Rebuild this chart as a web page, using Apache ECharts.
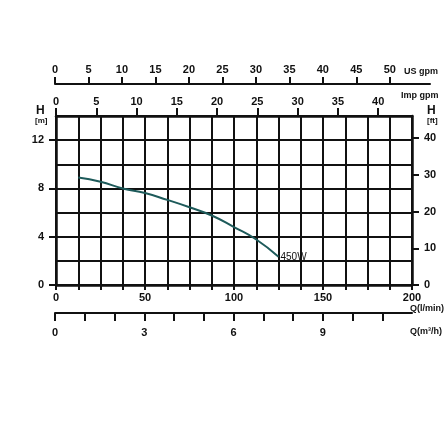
<!DOCTYPE html>
<html lang="en">
<head>
    <meta charset="UTF-8">
    <title>Pump curve</title>
    <style>
        html, body { margin: 0; padding: 0; background: #fff; }
        #chart { width: 448px; height: 448px; }
    </style>
</head>
<body>
<div id="chart"></div>
<script src="https://cdn.jsdelivr.net/npm/echarts@6/dist/echarts.min.js"></script>
<script>
    // flow (l/min) and head (m)
    var flowLmin = [12.5, 25, 37.5, 50, 62.5, 75, 87.5, 100, 112.5, 125];
    var headM = [8.9, 8.55, 8.0, 7.62, 7.05, 6.44, 5.76, 4.8, 3.77, 2.34];
    var seriesName = '450W';

    var lminLabels = [0, 50, 100, 150, 200];
    var headLabels = [0, 4, 8, 12];
    var ftLabels = [0, 10, 20, 30, 40];
    var impLabels = [0, 5, 10, 15, 20, 25, 30, 35, 40];
    var usLabels = [0, 5, 10, 15, 20, 25, 30, 35, 40, 45, 50];
    var m3hTicks = [0, 1, 2, 3, 4, 5, 6, 7, 8, 9, 10, 11];
    var m3hLabels = [0, 3, 6, 9];

    var font = 'Liberation Sans';
    var lbl = {color: '#111', fontSize: 11, fontWeight: 'bold', fontFamily: font};
    var black = '#111';

    var pts = flowLmin.map(function (q, i) { return [q, headM[i]]; });

    var chart = echarts.init(document.getElementById('chart'));
    var option = {
        animation: false,
        grid: [
            {left: 56, top: 116, width: 356, height: 169},   // main chart
            {left: 55, top: 84, width: 375, height: 0},      // US gpm scale
            {left: 55, top: 313, width: 357, height: 0}      // m3/h scale
        ],
        xAxis: [
            {
                gridIndex: 0, type: 'value', position: 'bottom',
                min: 0, max: 200, interval: 12.5,
                axisLine: {onZero: false, lineStyle: {color: black, width: 2.5}},
                axisTick: {show: true, length: 5, lineStyle: {color: black, width: 2}},
                axisLabel: Object.assign({customValues: lminLabels, margin: 7}, lbl),
                splitLine: {show: true, lineStyle: {color: black, width: 2}}
            },
            {
                gridIndex: 0, type: 'value', position: 'top',
                min: 0, max: 44.2, interval: 5,
                axisLine: {onZero: false, lineStyle: {color: black, width: 2.5}},
                axisTick: {show: true, length: 8, lineStyle: {color: black, width: 2}, customValues: impLabels},
                axisLabel: Object.assign({customValues: impLabels, margin: 9}, lbl),
                splitLine: {show: false}
            },
            {
                gridIndex: 1, type: 'value', position: 'top',
                min: 0, max: 56, interval: 5,
                axisLine: {onZero: false, lineStyle: {color: black, width: 2}},
                axisTick: {show: true, length: 7, lineStyle: {color: black, width: 2}, customValues: usLabels},
                axisLabel: Object.assign({customValues: usLabels, margin: 9}, lbl),
                splitLine: {show: false}
            },
            {
                gridIndex: 2, type: 'value', position: 'bottom',
                min: 0, max: 12, interval: 1,
                axisLine: {onZero: false, lineStyle: {color: black, width: 2}},
                axisTick: {show: true, length: 8, lineStyle: {color: black, width: 2}, customValues: m3hTicks},
                axisLabel: Object.assign({customValues: m3hLabels, margin: 14}, lbl),
                splitLine: {show: false}
            }
        ],
        yAxis: [
            {
                gridIndex: 0, type: 'value', position: 'left',
                min: 0, max: 14, interval: 2,
                axisLine: {show: true, onZero: false, lineStyle: {color: black, width: 2.5}},
                axisTick: {show: true, length: 7, lineStyle: {color: black, width: 2}, customValues: headLabels},
                axisLabel: Object.assign({customValues: headLabels, margin: 12}, lbl),
                splitLine: {show: false}
            },
            {
                gridIndex: 0, type: 'value', position: 'right',
                min: 0, max: 46, interval: 10,
                axisLine: {show: true, onZero: false, lineStyle: {color: black, width: 2.5}},
                axisTick: {show: true, length: 7, lineStyle: {color: black, width: 2}, customValues: ftLabels},
                axisLabel: Object.assign({customValues: ftLabels, margin: 12}, lbl),
                splitLine: {show: false}
            },
            {gridIndex: 1, type: 'value', show: false},
            {gridIndex: 2, type: 'value', show: false},
            {
                // only for the horizontal grid lines every 2 m
                gridIndex: 0, type: 'value', position: 'left',
                min: 0, max: 14, interval: 2,
                axisLine: {show: false, onZero: false}, axisTick: {show: false}, axisLabel: {show: false},
                splitLine: {show: true, lineStyle: {color: black, width: 2}}
            }
        ],
        series: [
            {
                name: seriesName,
                type: 'line',
                xAxisIndex: 0,
                yAxisIndex: 0,
                data: pts,
                smooth: true,
                showSymbol: false,
                z: 5,
                lineStyle: {color: '#1d5a5a', width: 2},
                endLabel: {
                    show: true,
                    formatter: seriesName,
                    color: '#111',
                    fontSize: 10,
                    fontFamily: font,
                    distance: 2
                }
            }
        ],
        graphic: [
            {type: 'text', left: 36, top: 105, style: {text: 'H', font: 'bold 12px "Liberation Sans"', fill: '#111'}},
            {type: 'text', left: 35, top: 117, style: {text: '[m]', font: 'bold 8px "Liberation Sans"', fill: '#111'}},
            {type: 'text', left: 427, top: 105, style: {text: 'H', font: 'bold 12px "Liberation Sans"', fill: '#111'}},
            {type: 'text', left: 427, top: 117, style: {text: '[ft]', font: 'bold 8px "Liberation Sans"', fill: '#111'}},
            {type: 'text', left: 404, top: 67, style: {text: 'US gpm', font: 'bold 9px "Liberation Sans"', fill: '#111'}},
            {type: 'text', left: 401, top: 91, style: {text: 'Imp gpm', font: 'bold 9px "Liberation Sans"', fill: '#111'}},
            {type: 'text', left: 410, top: 304, style: {text: 'Q(l/min)', font: 'bold 9px "Liberation Sans"', fill: '#111'}},
            {type: 'text', left: 410, top: 327, style: {text: 'Q(m³/h)', font: 'bold 9px "Liberation Sans"', fill: '#111'}}
        ]
    };
    chart.setOption(option);
</script>
</body>
</html>
